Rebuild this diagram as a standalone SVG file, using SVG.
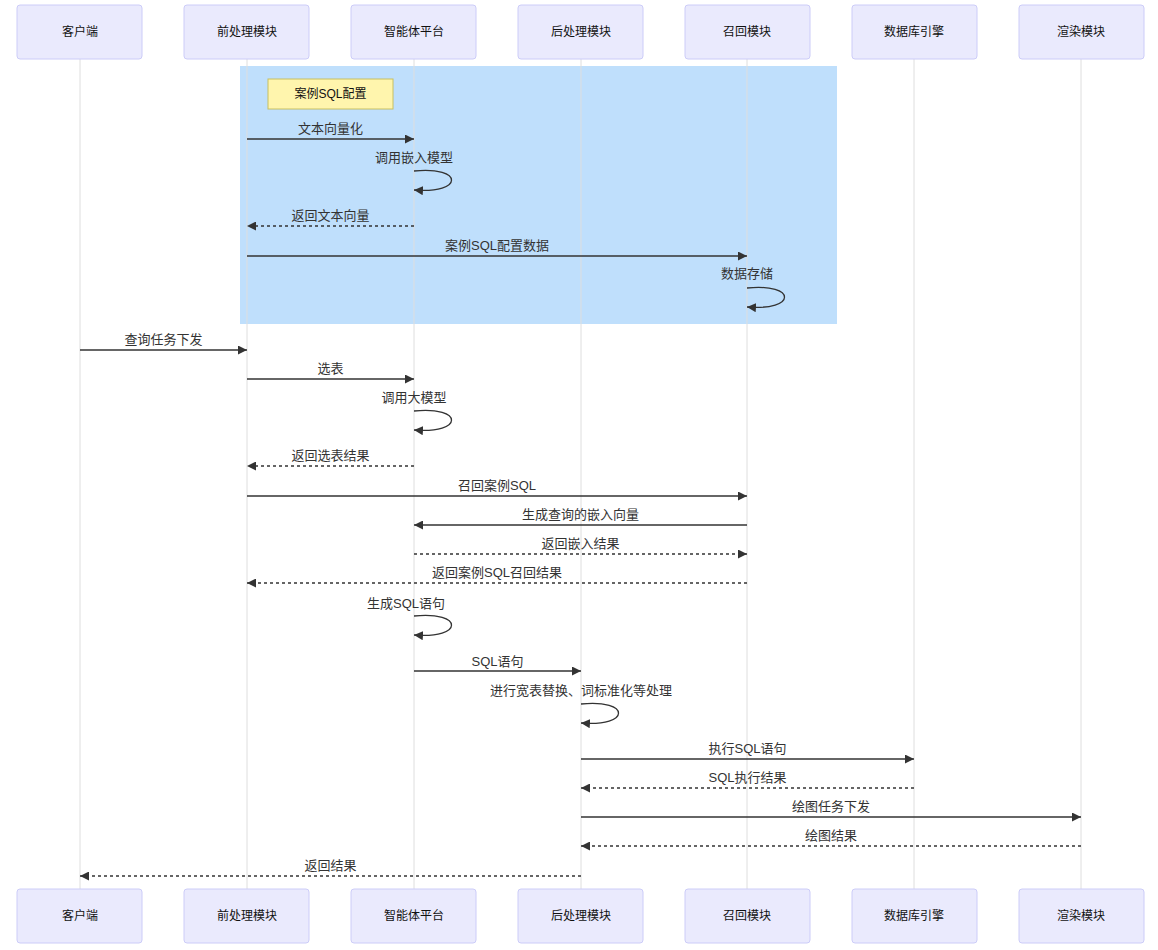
<svg xmlns="http://www.w3.org/2000/svg" width="1158" height="950" viewBox="0 0 1158 950">
<defs>
<style>
.actor rect{fill:#eaeafd;stroke:#ccccf8;stroke-width:1}
.actor text{font-family:"Liberation Sans","Noto Sans CJK SC",sans-serif;font-size:12px;fill:#111;text-anchor:middle;dominant-baseline:central}
.life{stroke:#dedede;stroke-width:1}
.msg{stroke:#333;stroke-width:1.3;fill:none}
.dash{stroke-dasharray:3,3}
.lbl{font-family:"Liberation Sans","Noto Sans CJK SC",sans-serif;font-size:13px;fill:#333;text-anchor:middle}
</style>
<marker id="ah" viewBox="0 0 10 10" refX="10" refY="5" markerWidth="9" markerHeight="9" markerUnits="userSpaceOnUse" orient="auto">
<path d="M0,0 L10,5 L0,10 z" fill="#333"/>
</marker>
</defs>
<rect x="0" y="0" width="1158" height="950" fill="#fff"/>
<rect x="240" y="66" width="597" height="258" fill="#bfdffc"/>
<g id="lifelines">
<line class="life" x1="80" y1="59" x2="80" y2="889"/>
<line class="life" x1="247" y1="59" x2="247" y2="889"/>
<line class="life" x1="414" y1="59" x2="414" y2="889"/>
<line class="life" x1="581" y1="59" x2="581" y2="889"/>
<line class="life" x1="747" y1="59" x2="747" y2="889"/>
<line class="life" x1="914" y1="59" x2="914" y2="889"/>
<line class="life" x1="1081" y1="59" x2="1081" y2="889"/>
</g>
<g id="note">
<rect x="268" y="79" width="125" height="30" fill="#fff5ad" stroke="#c8c060" stroke-width="1"/>
<text x="330.5" y="94" style="font-family:'Liberation Sans','Noto Sans CJK SC',sans-serif;font-size:12px;fill:#111;text-anchor:middle;dominant-baseline:central">案例SQL配置</text>
</g>
<g id="actor-client" class="actor"><rect x="17" y="5" width="125" height="54" rx="3"/><text x="80" y="32">客户端</text><rect x="17" y="889" width="125" height="54" rx="3"/><text x="80" y="916">客户端</text></g>
<g id="actor-pre" class="actor"><rect x="184" y="5" width="125" height="54" rx="3"/><text x="247" y="32">前处理模块</text><rect x="184" y="889" width="125" height="54" rx="3"/><text x="247" y="916">前处理模块</text></g>
<g id="actor-agent" class="actor"><rect x="351" y="5" width="125" height="54" rx="3"/><text x="414" y="32">智能体平台</text><rect x="351" y="889" width="125" height="54" rx="3"/><text x="414" y="916">智能体平台</text></g>
<g id="actor-post" class="actor"><rect x="518" y="5" width="125" height="54" rx="3"/><text x="581" y="32">后处理模块</text><rect x="518" y="889" width="125" height="54" rx="3"/><text x="581" y="916">后处理模块</text></g>
<g id="actor-recall" class="actor"><rect x="685" y="5" width="125" height="54" rx="3"/><text x="747" y="32">召回模块</text><rect x="685" y="889" width="125" height="54" rx="3"/><text x="747" y="916">召回模块</text></g>
<g id="actor-db" class="actor"><rect x="852" y="5" width="125" height="54" rx="3"/><text x="914" y="32">数据库引擎</text><rect x="852" y="889" width="125" height="54" rx="3"/><text x="914" y="916">数据库引擎</text></g>
<g id="actor-render" class="actor"><rect x="1019" y="5" width="125" height="54" rx="3"/><text x="1081" y="32">渲染模块</text><rect x="1019" y="889" width="125" height="54" rx="3"/><text x="1081" y="916">渲染模块</text></g>
<g id="connectors">
<line class="msg" x1="247" y1="139" x2="414" y2="139" marker-end="url(#ah)"/>
<text class="lbl" x="330.5" y="133">文本向量化</text>
<path class="msg" d="M414,171 C464,166 464,194 414,190" marker-end="url(#ah)"/>
<text class="lbl" x="414" y="162">调用嵌入模型</text>
<line class="msg dash" x1="414" y1="226" x2="247" y2="226" marker-end="url(#ah)"/>
<text class="lbl" x="330.5" y="220">返回文本向量</text>
<line class="msg" x1="247" y1="256" x2="747" y2="256" marker-end="url(#ah)"/>
<text class="lbl" x="497" y="250">案例SQL配置数据</text>
<path class="msg" d="M747,288 C797,283 797,311 747,307" marker-end="url(#ah)"/>
<text class="lbl" x="747" y="278">数据存储</text>
<line class="msg" x1="80" y1="350" x2="247" y2="350" marker-end="url(#ah)"/>
<text class="lbl" x="163.5" y="344">查询任务下发</text>
<line class="msg" x1="247" y1="379" x2="414" y2="379" marker-end="url(#ah)"/>
<text class="lbl" x="330.5" y="373">选表</text>
<path class="msg" d="M414,411 C464,406 464,434 414,430" marker-end="url(#ah)"/>
<text class="lbl" x="414" y="402">调用大模型</text>
<line class="msg dash" x1="414" y1="466" x2="247" y2="466" marker-end="url(#ah)"/>
<text class="lbl" x="330.5" y="460">返回选表结果</text>
<line class="msg" x1="247" y1="496" x2="747" y2="496" marker-end="url(#ah)"/>
<text class="lbl" x="497" y="490">召回案例SQL</text>
<line class="msg" x1="747" y1="525" x2="414" y2="525" marker-end="url(#ah)"/>
<text class="lbl" x="580.5" y="519">生成查询的嵌入向量</text>
<line class="msg dash" x1="414" y1="554" x2="747" y2="554" marker-end="url(#ah)"/>
<text class="lbl" x="580.5" y="548">返回嵌入结果</text>
<line class="msg dash" x1="747" y1="583" x2="247" y2="583" marker-end="url(#ah)"/>
<text class="lbl" x="497" y="577">返回案例SQL召回结果</text>
<path class="msg" d="M414,616 C464,611 464,639 414,635" marker-end="url(#ah)"/>
<text class="lbl" x="406" y="608">生成SQL语句</text>
<line class="msg" x1="414" y1="671" x2="581" y2="671" marker-end="url(#ah)"/>
<text class="lbl" x="497.5" y="666">SQL语句</text>
<path class="msg" d="M581,704 C631,699 631,727 581,723" marker-end="url(#ah)"/>
<text class="lbl" x="581" y="695">进行宽表替换、词标准化等处理</text>
<line class="msg" x1="581" y1="759" x2="914" y2="759" marker-end="url(#ah)"/>
<text class="lbl" x="747.5" y="753">执行SQL语句</text>
<line class="msg dash" x1="914" y1="788" x2="581" y2="788" marker-end="url(#ah)"/>
<text class="lbl" x="747.5" y="782">SQL执行结果</text>
<line class="msg" x1="581" y1="817" x2="1081" y2="817" marker-end="url(#ah)"/>
<text class="lbl" x="831" y="811">绘图任务下发</text>
<line class="msg dash" x1="1081" y1="846" x2="581" y2="846" marker-end="url(#ah)"/>
<text class="lbl" x="831" y="840">绘图结果</text>
<line class="msg dash" x1="581" y1="876" x2="80" y2="876" marker-end="url(#ah)"/>
<text class="lbl" x="330.5" y="870">返回结果</text>
</g>
</svg>
